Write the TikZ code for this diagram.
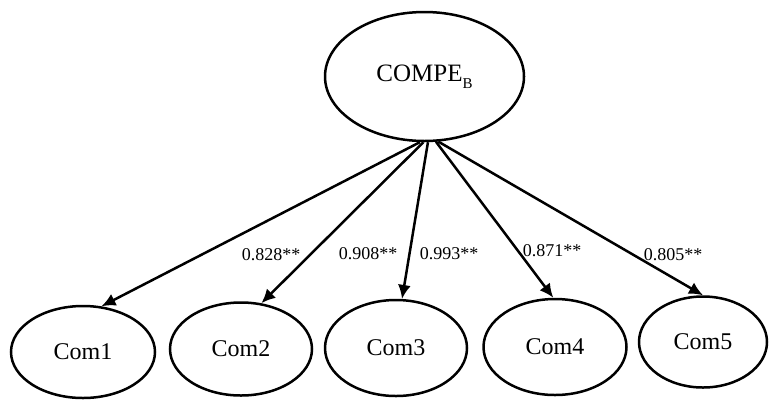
\documentclass[tikz,border=0pt]{standalone}
\usepackage{fontspec}
\setmainfont{Liberation Serif}
\usetikzlibrary{shapes.geometric,arrows.meta}

\tikzset{
  latent/.style={ellipse, draw, line width=2.5pt, inner sep=0pt,
    font=\fontsize{25}{28}\selectfont},
  indicator/.style={ellipse, draw, line width=2.5pt, inner sep=0pt,
    font=\fontsize{24}{28}\selectfont},
  loading/.style={-{Latex[length=14pt,width=13pt]}, line width=2.5pt},
  coef/.style={inner sep=0pt, font=\fontsize{18}{20}\selectfont}
}

\begin{document}
\begin{tikzpicture}[x=1pt,y=-1pt]
  \useasboundingbox (0,0) rectangle (770,400);

  % latent construct
  \node[latent, minimum width=199pt, minimum height=129pt] (top) at (424.5,76.5)
    {COMPE\raisebox{-7pt}{\fontsize{15}{15}\selectfont B}};

  % observed indicators
  \node[indicator, minimum width=144pt, minimum height=92pt] (c1) at (83,352) {Com1};
  \node[indicator, minimum width=142pt, minimum height=93pt] (c2) at (241,349) {Com2};
  \node[indicator, minimum width=142pt, minimum height=96pt] (c3) at (396,348) {Com3};
  \node[indicator, minimum width=143pt, minimum height=96pt] (c4) at (555,347) {Com4};
  \node[indicator, minimum width=128pt, minimum height=91pt] (c5) at (703,342) {Com5};

  % loadings
  \draw[loading] (top.-94)   -- (c1.68);
  \draw[loading] (top.-91.3) -- (c2.66);
  \draw[loading] (top.-87.8) -- (c3.83);
  \draw[loading] (top.-80.9) -- (c4.92);
  \draw[loading] (top.-78.4) -- (c5.90);

  % coefficients
  \node[coef] (l1) at (271,255) {0.828**};
  \node[coef] (l2) at (368,254) {0.908**};
  \node[coef] (l3) at (449,254) {0.993**};
  \node[coef] (l4) at (552,251) {0.871**};
  \node[coef] (l5) at (673,255) {0.805**};
\end{tikzpicture}
\end{document}
